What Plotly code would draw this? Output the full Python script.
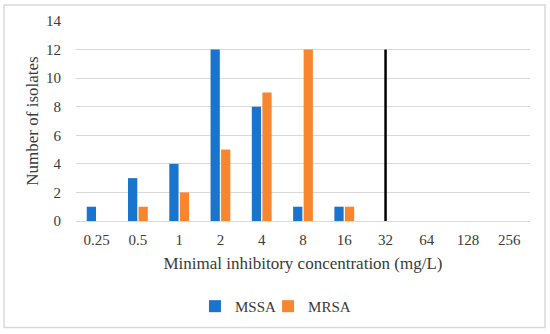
import plotly.graph_objects as go

categories = ["0.25", "0.5", "1", "2", "4", "8", "16", "32", "64", "128", "256"]
mssa = [1, 3, 4, 12, 8, 1, 1, 0, 0, 0, 0]
mrsa = [0, 1, 2, 5, 9, 12, 1, 0, 0, 0, 0]
breakpoint_cat = "32"
breakpoint_top = 12

FONT = "Liberation Serif"
BLUE = "#1874CD"
ORANGE = "#F7862F"
TXT = "#3A3A3A"

fig = go.Figure()
fig.add_trace(go.Bar(x=categories, y=mssa, name="MSSA", marker_color=BLUE, marker_line_width=0,
                     legend="legend"))
fig.add_trace(go.Bar(x=categories, y=mrsa, name="MRSA", marker_color=ORANGE, marker_line_width=0,
                     legend="legend2"))
fig.add_trace(go.Scatter(x=[breakpoint_cat, breakpoint_cat], y=[0, breakpoint_top], mode="lines",
                         line=dict(color="black", width=2.5), showlegend=False, hoverinfo="skip"))

leg_common = dict(orientation="h", xanchor="left", y=-0.42, yanchor="middle",
                  font=dict(size=15), itemwidth=30, bgcolor="rgba(0,0,0,0)")
fig.update_layout(
    width=550, height=334,
    margin=dict(l=76, r=20, t=21, b=112),
    paper_bgcolor="white", plot_bgcolor="white",
    barmode="group", bargap=0.49, bargroupgap=0.12,
    font=dict(family=FONT, size=15, color=TXT),
    legend=dict(x=0.262, **leg_common),
    legend2=dict(x=0.423, **leg_common),
    shapes=[dict(type="rect", xref="paper", yref="paper", x0=-0.1586, x1=1.033, y0=-0.532, y1=1.0796,
                 line=dict(color="#D9D9D9", width=1.5), fillcolor="rgba(0,0,0,0)", layer="below")],
)
fig.update_xaxes(type="category", showgrid=False, showline=True, linecolor="#D9D9D9", linewidth=1,
                 ticks="", tickfont=dict(size=15, color=TXT), ticklabelstandoff=5,
                 title=dict(text="Minimal inhibitory concentration (mg/L)", font=dict(size=17, color=TXT), standoff=10))
fig.update_yaxes(range=[0, 14], dtick=2, showgrid=True, gridcolor="#D9D9D9", gridwidth=1,
                 zeroline=False, showline=False, ticks="", tickfont=dict(size=15, color=TXT),
                 ticklabelstandoff=14,
                 title=dict(text="Number of isolates", font=dict(size=17, color=TXT), standoff=3))

fig.write_html("out.html", config={"displayModeBar": False},
               post_script="document.body.style.margin='0px';")
